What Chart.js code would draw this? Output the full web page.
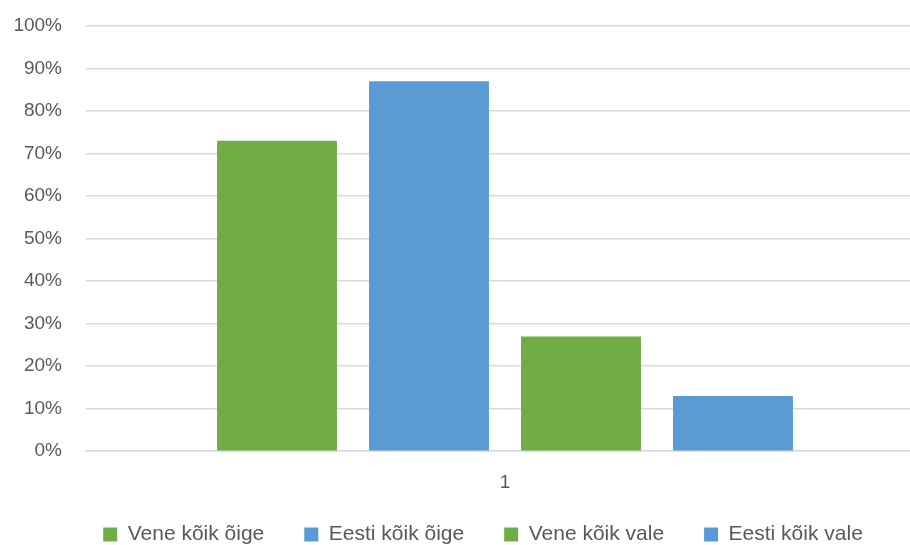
<!DOCTYPE html>
<html>
<head>
<meta charset="utf-8">
<script src="https://cdn.jsdelivr.net/npm/chart.js@4"></script>
<style>
  html, body { margin: 0; padding: 0; background: #fff; overflow: hidden; }
  #wrap { width: 940px; height: 545px; }
</style>
</head>
<body>
<div id="wrap"><canvas id="myChart" width="940" height="545"></canvas></div>
<script>
const categories = ["1"];
const seriesNames = ["Vene kõik õige", "Eesti kõik õige", "Vene kõik vale", "Eesti kõik vale"];
const seriesValues = [[0.73], [0.87], [0.27], [0.13]];
const seriesColors = ["#70AD47", "#5B9BD5", "#70AD47", "#5B9BD5"];

// legend takes little room in the layout, then gets moved where the original has it
const legendPlace = {
  id: "legendPlace",
  beforeInit(chart) {
    const fit = chart.legend.fit;
    chart.legend.fit = function () {
      fit.bind(chart.legend)();
      this.height = 31;
    };
  },
  afterLayout(chart) {
    const lg = chart.legend;
    lg.left = 42;
    lg.top = 484;
    lg.bottom = lg.top + 60;
  },
};

const ctx = document.getElementById("myChart").getContext("2d");

new Chart(ctx, {
  type: "bar",
  data: {
    labels: categories,
    datasets: seriesNames.map((name, i) => ({
      label: name,
      data: seriesValues[i],
      backgroundColor: seriesColors[i],
      borderWidth: 0,
    })),
  },
  options: {
    responsive: false,
    animation: false,
    categoryPercentage: 0.7255,
    barPercentage: 0.789,
    layout: { padding: { top: 26, left: 0, right: 16, bottom: 0 } },
    scales: {
      x: {
        grid: { display: false, drawTicks: false },
        border: { color: "#d9d9d9", width: 1.5 },
        ticks: { color: "#595959", font: { family: "Liberation Sans", size: 19 }, padding: 20 },
      },
      y: {
        min: 0,
        max: 1,
        grid: { color: "#d9d9d9", lineWidth: 1.5, drawTicks: false },
        border: { display: false },
        ticks: {
          stepSize: 0.1,
          color: "#595959",
          font: { family: "Liberation Sans", size: 19 },
          padding: 24,
          callback: (v) => Math.round(v * 100) + "%",
        },
        afterFit: (scale) => {
          scale.width = 86;
          scale.paddingTop = 0;
          scale.paddingBottom = 0;
        },
      },
    },
    plugins: {
      legend: {
        position: "bottom",
        labels: {
          color: "#595959",
          font: { family: "Liberation Sans", size: 21 },
          boxWidth: 14,
          boxHeight: 14,
          padding: 40,
        },
      },
      tooltip: { enabled: false },
    },
  },
  plugins: [legendPlace],
});
</script>
</body>
</html>
